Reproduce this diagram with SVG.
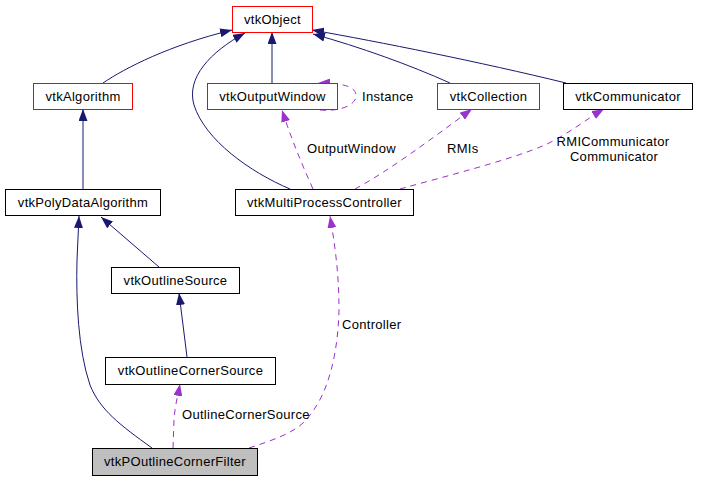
<svg xmlns="http://www.w3.org/2000/svg" width="708" height="480" viewBox="0 0 708 480">
<style>
.n rect{fill:#fff;stroke:#000;stroke-width:1}
.n rect.r{stroke:#ff0000}
.n rect.g{fill:#bfbfbf}
text{font-family:"Liberation Sans",Arial,Helvetica,sans-serif;font-size:13px;letter-spacing:0.3px;fill:#000}
.n text{text-anchor:middle}
.e{fill:none;stroke:#191970;stroke-width:1}
.u{fill:none;stroke:#9a32cd;stroke-width:1;stroke-dasharray:6,5}
</style>
<defs>
<marker id="ab" markerUnits="userSpaceOnUse" markerWidth="12" markerHeight="9" refX="12" refY="4.5" orient="auto"><path d="M0,0 L12,4.5 L0,9 z" fill="#191970"/></marker>
<marker id="ap" markerUnits="userSpaceOnUse" markerWidth="12" markerHeight="9" refX="12" refY="4.5" orient="auto"><path d="M0,0 L12,4.5 L0,9 z" fill="#9a32cd"/></marker>
</defs>
<rect width="708" height="480" fill="#fff"/>
<g id="connectors">
<path class="e" marker-end="url(#ab)" d="M103,83 C125,68 170,45 232,30"/>
<path class="e" marker-end="url(#ab)" d="M290,189 C250,172 205,140 194,105 C186,78 210,52 245,33"/>
<path class="e" marker-end="url(#ab)" d="M272,83 L272,32"/>
<path class="e" marker-end="url(#ab)" d="M450,83 C410,65 360,47 313,34"/>
<path class="e" marker-end="url(#ab)" d="M566,83 C480,62 380,42 312,30"/>
<path class="e" marker-end="url(#ab)" d="M83,189 L83,109"/>
<path class="e" marker-end="url(#ab)" d="M159,267 L101,217"/>
<path class="e" marker-end="url(#ab)" d="M187,357 L179,293"/>
<path class="e" marker-end="url(#ab)" d="M152,448 C120,425 100,410 90,385 C78,350 76,300 77,260 L79,216"/>
<path class="u" marker-end="url(#ap)" d="M173,448 L174,420 C175,405 178,395 180,384"/>
<path class="u" marker-end="url(#ap)" d="M249,448 C280,438 300,430 310,415 C330,390 338,350 339,310 C339,270 334,240 330,216"/>
<path class="u" marker-end="url(#ap)" d="M313,189 C300,160 290,135 282,110"/>
<path class="u" marker-end="url(#ap)" d="M355,189 C390,170 430,140 472,109"/>
<path class="u" marker-end="url(#ap)" d="M400,189 C450,175 510,160 545,145 C570,133 585,120 604,109"/>
<path class="u" marker-end="url(#ap)" d="M320,110 C342,112 356,104 356,96 C356,88 348,83 318,83"/>
<text x="362" y="101">Instance</text>
<text x="307" y="153">OutputWindow</text>
<text x="447" y="153">RMIs</text>
<text x="613" y="146" text-anchor="middle">RMICommunicator</text>
<text x="614" y="161" text-anchor="middle">Communicator</text>
<text x="342" y="329">Controller</text>
<text x="182" y="419">OutlineCornerSource</text>
</g>
<g id="vtkObject" class="n"><rect class="r" x="232.5" y="6.5" width="80" height="26"/><text x="272.5" y="24">vtkObject</text></g>
<g id="vtkAlgorithm" class="n"><rect class="r" x="33.5" y="83.5" width="99" height="26"/><text x="83" y="101">vtkAlgorithm</text></g>
<g id="vtkOutputWindow" class="n"><rect class="r" x="207.5" y="83.5" width="130" height="26"/><text x="272.5" y="101">vtkOutputWindow</text></g>
<g id="vtkCollection" class="n"><rect class="r" x="437.5" y="83.5" width="102" height="26"/><text x="488.5" y="101">vtkCollection</text></g>
<g id="vtkCommunicator" class="n"><rect x="563.5" y="83.5" width="129" height="26"/><text x="628" y="101">vtkCommunicator</text></g>
<g id="vtkPolyDataAlgorithm" class="n"><rect x="5.5" y="189.5" width="155" height="26"/><text x="83" y="207">vtkPolyDataAlgorithm</text></g>
<g id="vtkMultiProcessController" class="n"><rect x="235.5" y="189.5" width="178" height="26"/><text x="324.5" y="207">vtkMultiProcessController</text></g>
<g id="vtkOutlineSource" class="n"><rect x="111.5" y="267.5" width="128" height="26"/><text x="175.5" y="285">vtkOutlineSource</text></g>
<g id="vtkOutlineCornerSource" class="n"><rect x="105.5" y="357.5" width="170" height="27"/><text x="190.5" y="375">vtkOutlineCornerSource</text></g>
<g id="vtkPOutlineCornerFilter" class="n"><rect class="g" x="92.5" y="448.5" width="165" height="27"/><text x="175" y="466">vtkPOutlineCornerFilter</text></g>
</svg>
